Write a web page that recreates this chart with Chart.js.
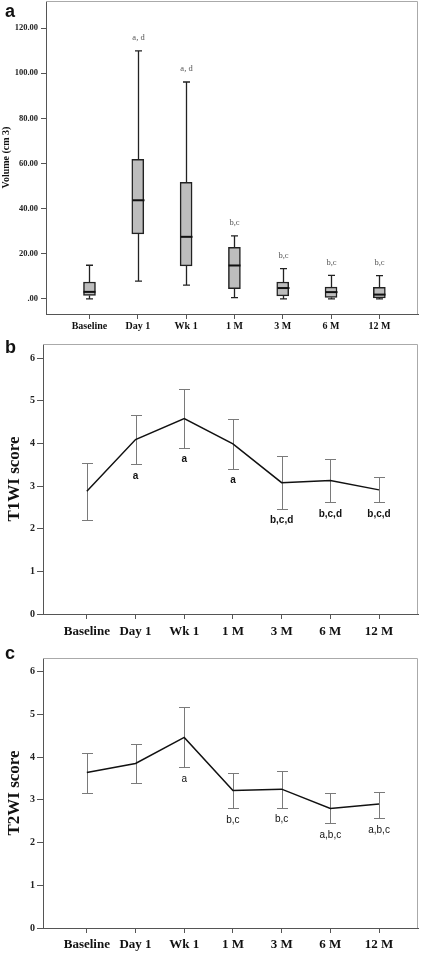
<!DOCTYPE html>
<html>
<head>
<meta charset="utf-8">
<script src="https://cdn.jsdelivr.net/npm/chart.js@4.4.0/dist/chart.umd.min.js"></script>
<style>
  body { margin: 0; background: #fff; }
  #wrap { position: relative; width: 424px; height: 953px; overflow: hidden; }
  canvas { position: absolute; left: 0; }
  .letter { position: absolute; left: 5px; font: bold 18px "Liberation Sans", Arial, sans-serif; line-height: 18px; color: #111; }
</style>
</head>
<body>
<div id="wrap">
  <canvas id="volChart" width="424" height="336" style="top:0"></canvas>
  <canvas id="t1Chart" width="424" height="310" style="top:336px"></canvas>
  <canvas id="t2Chart" width="424" height="307" style="top:646px"></canvas>
  <div class="letter" style="top:2px">a</div>
  <div class="letter" style="top:338px">b</div>
  <div class="letter" style="top:644px">c</div>
</div>
<script>
const timepoints = ["Baseline", "Day 1", "Wk 1", "1 M", "3 M", "6 M", "12 M"];

// a: lesion volume (cm3), box plot
const volMin = [0, 7.9, 6.1, 0.6, 0, 0, 0];
const volQ1 = [1.5, 28.8, 14.6, 4.5, 1.3, 0.6, 0.4];
const volMedian = [3.1, 43.7, 27.5, 14.8, 4.8, 3.0, 1.9];
const volQ3 = [7.5, 61.8, 51.6, 22.8, 7.5, 5.2, 5.1];
const volMax = [14.9, 109.9, 96.1, 27.9, 13.4, 10.4, 10.3];
const volSig = ["", "a, d", "a, d", "b,c", "b,c", "b,c", "b,c"];
const volTicks = [0, 20, 40, 60, 80, 100, 120];

// b: T1WI score, mean with error bars
const t1Mean = [2.88, 4.09, 4.58, 3.99, 3.08, 3.13, 2.91];
const t1Upper = [3.53, 4.66, 5.27, 4.56, 3.70, 3.63, 3.21];
const t1Lower = [2.21, 3.51, 3.90, 3.41, 2.47, 2.62, 2.62];
const t1Sig = ["", "a", "a", "a", "b,c,d", "b,c,d", "b,c,d"];

// c: T2WI score
const t2Mean = [3.64, 3.85, 4.46, 3.22, 3.25, 2.80, 2.90];
const t2Upper = [4.10, 4.30, 5.17, 3.62, 3.68, 3.15, 3.19];
const t2Lower = [3.15, 3.40, 3.76, 2.81, 2.82, 2.46, 2.58];
const t2Sig = ["", "", "a", "b,c", "b,c", "a,b,c", "a,b,c"];

const scoreTicks = [0, 1, 2, 3, 4, 5, 6];

const SERIF = '"Liberation Serif", "Times New Roman", serif';
const SANS = '"Liberation Sans", Arial, sans-serif';
const AXIS = "#555";

// top + right edges of the plot frame
const framePlugin = {
  id: "frame",
  afterDraw(chart) {
    const { ctx, chartArea: a } = chart;
    ctx.save();
    ctx.strokeStyle = "#aaa";
    ctx.lineWidth = 1;
    ctx.beginPath();
    ctx.moveTo(a.left, a.top + 0.5);
    ctx.lineTo(a.right - 0.5, a.top + 0.5);
    ctx.lineTo(a.right - 0.5, a.bottom);
    ctx.stroke();
    ctx.restore();
  }
};

// whiskers, caps and medians on top of the floating bars
const boxPlugin = {
  id: "boxWhiskers",
  afterDatasetsDraw(chart) {
    const { ctx, scales: { x, y } } = chart;
    ctx.save();
    volMedian.forEach((med, i) => {
      const px = Math.round(x.getPixelForValue(i)) + 0.5;
      ctx.strokeStyle = "#222";
      ctx.lineWidth = 1.3;
      ctx.beginPath();
      ctx.moveTo(px, y.getPixelForValue(volQ3[i]));
      ctx.lineTo(px, y.getPixelForValue(volMax[i]));
      ctx.moveTo(px, y.getPixelForValue(volQ1[i]));
      ctx.lineTo(px, y.getPixelForValue(volMin[i]));
      ctx.moveTo(px - 3.5, y.getPixelForValue(volMax[i]));
      ctx.lineTo(px + 3.5, y.getPixelForValue(volMax[i]));
      ctx.moveTo(px - 3.5, y.getPixelForValue(volMin[i]));
      ctx.lineTo(px + 3.5, y.getPixelForValue(volMin[i]));
      ctx.stroke();
      ctx.lineWidth = 2;
      ctx.strokeStyle = "#111";
      ctx.beginPath();
      ctx.moveTo(px - 6, y.getPixelForValue(med));
      ctx.lineTo(px + 6, y.getPixelForValue(med));
      ctx.stroke();
      if (volSig[i]) {
        ctx.fillStyle = "#555";
        ctx.font = "8.5px " + SERIF;
        ctx.textAlign = "center";
        ctx.textBaseline = "middle";
        ctx.fillText(volSig[i], px, y.getPixelForValue(volMax[i]) - 13);
      }
    });
    ctx.restore();
  }
};

// gray error bars under the mean line, letters under each bar
function errorBarPlugin(upper, lower, sig, font) {
  return {
    id: "errorBars",
    beforeDatasetsDraw(chart) {
      const { ctx, scales: { x, y } } = chart;
      ctx.save();
      ctx.strokeStyle = "#7a7a7a";
      ctx.lineWidth = 1;
      upper.forEach((u, i) => {
        const px = Math.round(x.getPixelForValue(i)) + 0.5;
        const yu = Math.round(y.getPixelForValue(u)) + 0.5;
        const yl = Math.round(y.getPixelForValue(lower[i])) + 0.5;
        ctx.beginPath();
        ctx.moveTo(px, yu);
        ctx.lineTo(px, yl);
        ctx.moveTo(px - 5.5, yu);
        ctx.lineTo(px + 5.5, yu);
        ctx.moveTo(px - 5.5, yl);
        ctx.lineTo(px + 5.5, yl);
        ctx.stroke();
      });
      ctx.restore();
    },
    afterDatasetsDraw(chart) {
      const { ctx, scales: { x, y } } = chart;
      ctx.save();
      ctx.fillStyle = "#111";
      ctx.font = font;
      ctx.textAlign = "center";
      ctx.textBaseline = "middle";
      sig.forEach((s, i) => {
        if (s) ctx.fillText(s, x.getPixelForValue(i), y.getPixelForValue(lower[i]) + 12);
      });
      ctx.restore();
    }
  };
}

function xAxis(fontSize, pad, height) {
  return {
    type: "linear",
    min: -0.9,
    max: 6.8,
    offset: false,
    afterBuildTicks: s => { s.ticks = timepoints.map((_, i) => ({ value: i })); },
    afterFit: s => { s.height = height; s.paddingLeft = 0; s.paddingRight = 0; },
    ticks: {
      callback: v => timepoints[v],
      font: { family: SERIF, size: fontSize, weight: "bold" },
      color: "#111",
      padding: pad,
      maxRotation: 0,
      autoSkip: false
    },
    grid: { drawOnChartArea: false, offset: false, tickLength: 5, color: AXIS },
    border: { color: AXIS, width: 1 }
  };
}

function yAxis(opts) {
  return {
    type: "linear",
    min: opts.min,
    max: opts.max,
    afterBuildTicks: s => { s.ticks = opts.ticks.map(v => ({ value: v })); },
    afterFit: s => { s.width = opts.width; s.paddingTop = 0; s.paddingBottom = 0; },
    ticks: {
      callback: opts.format,
      font: { family: SERIF, size: opts.tickSize, weight: "bold" },
      color: "#222",
      padding: opts.tickPad
    },
    grid: { drawOnChartArea: false, tickLength: opts.tickLength, color: AXIS },
    border: { color: AXIS, width: 1 },
    title: {
      display: true,
      text: opts.title,
      font: { family: SERIF, size: opts.titleSize, weight: "bold" },
      color: "#111",
      padding: { top: opts.titlePad, bottom: 0 }
    }
  };
}

const common = {
  responsive: false,
  animation: false,
  devicePixelRatio: 1,
  plugins: { legend: { display: false }, tooltip: { enabled: false } }
};

// a
new Chart(document.getElementById("volChart"), {
  type: "bar",
  data: {
    datasets: [{
      data: volQ1.map((q, i) => ({ x: i, y: [q, volQ3[i]] })),
      backgroundColor: "#bdbdbd",
      borderColor: "#222",
      borderWidth: 1.5,
      borderSkipped: false,
      barThickness: 12
    }]
  },
  options: {
    ...common,
    layout: { padding: { left: 0, right: 6, top: 1, bottom: 0 } },
    scales: {
      x: xAxis(10, 1, 22),
      y: yAxis({
        min: -6.7, max: 132, ticks: volTicks, width: 46,
        format: v => v === 0 ? ".00" : v.toFixed(2),
        tickSize: 8.5, tickPad: 3, tickLength: 5,
        title: "Volume (cm 3)", titleSize: 10, titlePad: 0
      })
    }
  },
  plugins: [boxPlugin, framePlugin]
});

// b
new Chart(document.getElementById("t1Chart"), {
  type: "line",
  data: {
    datasets: [{
      data: t1Mean.map((v, i) => ({ x: i, y: v })),
      borderColor: "#111",
      borderWidth: 1.5,
      pointRadius: 0,
      tension: 0
    }]
  },
  options: {
    ...common,
    layout: { padding: { left: 0, right: 6, top: 8, bottom: 0 } },
    scales: {
      x: xAxis(13, 5, 32),
      y: yAxis({
        min: 0, max: 6.33, ticks: scoreTicks, width: 43,
        format: v => String(v),
        tickSize: 10, tickPad: 2, tickLength: 6,
        title: "T1WI score", titleSize: 17, titlePad: 4
      })
    }
  },
  plugins: [errorBarPlugin(t1Upper, t1Lower, t1Sig, "bold 10px " + SANS), framePlugin]
});

// c
new Chart(document.getElementById("t2Chart"), {
  type: "line",
  data: {
    datasets: [{
      data: t2Mean.map((v, i) => ({ x: i, y: v })),
      borderColor: "#111",
      borderWidth: 1.5,
      pointRadius: 0,
      tension: 0
    }]
  },
  options: {
    ...common,
    layout: { padding: { left: 0, right: 6, top: 12, bottom: 0 } },
    scales: {
      x: xAxis(13, 4, 25),
      y: yAxis({
        min: 0, max: 6.32, ticks: scoreTicks, width: 43,
        format: v => String(v),
        tickSize: 10, tickPad: 2, tickLength: 6,
        title: "T2WI score", titleSize: 17, titlePad: 4
      })
    }
  },
  plugins: [errorBarPlugin(t2Upper, t2Lower, t2Sig, "10px " + SANS), framePlugin]
});
</script>
</body>
</html>
